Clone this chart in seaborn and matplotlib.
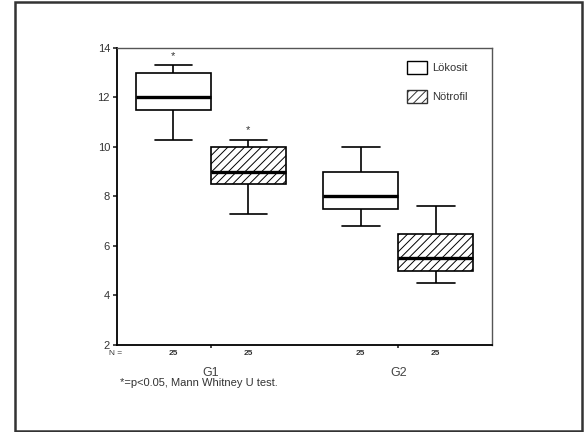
import numpy as np
import pandas as pd
import seaborn as sns
import matplotlib.pyplot as plt
from matplotlib.patches import Patch, Rectangle

# Beş sayı özeti (alt bıyık, Q1, medyan, Q3, üst bıyık)
gruplar = ['G1', 'G2']
hucreler = ['Lökosit', 'Nötrofil']
lokosit = [[10.3, 11.5, 12.0, 13.0, 13.3],
           [6.8, 7.5, 8.0, 9.0, 10.0]]
notrofil = [[7.3, 8.5, 9.0, 10.0, 10.3],
            [4.5, 5.0, 5.5, 6.5, 7.6]]
n_sayilari = [[25, 25], [25, 25]]
yildiz = [[True, True], [False, False]]
y_ticks = [2, 4, 6, 8, 10, 12, 14]
dipnot = '*=p<0.05, Mann Whitney U test.'

rows = []
for gi, g in enumerate(gruplar):
    for hucre, ozet in zip(hucreler, [lokosit[gi], notrofil[gi]]):
        for v in ozet:
            rows.append({'grup': g, 'hucre': hucre, 'deger': v})
df = pd.DataFrame(rows)

sns.set_style('white')
plt.rcParams['font.family'] = ['Liberation Sans', 'DejaVu Sans']
plt.rcParams['hatch.linewidth'] = 0.7
plt.rcParams['hatch.color'] = '#444444'

fig = plt.figure(figsize=(5.86, 4.32), dpi=100)
ax = fig.add_axes([0.1997, 0.2014, 0.64, 0.6875])

sns.boxplot(data=df, x='grup', y='deger', hue='hucre', order=gruplar,
            hue_order=hucreler, palette=['white', 'white'], linecolor='black',
            linewidth=1.2, width=0.8, gap=0, whis=(0, 100), fliersize=0,
            medianprops=dict(linewidth=2.4, color='black'), legend=False, ax=ax)

for c in ax.containers[1:]:
    for b in c.boxes:
        b.set_hatch('////')

ax.set_ylim(2, 14)
ax.set_xlim(-0.5, 1.5)
ax.set_yticks(y_ticks)
ax.set_xlabel('')
ax.set_ylabel('')
ax.tick_params(axis='y', length=3, width=1.2, labelsize=8, labelcolor='#333333', pad=2, left=True)
ax.tick_params(axis='x', length=2, width=1.2, labelsize=9, labelcolor='#444444', pad=14, bottom=True)

for s in ['left', 'bottom']:
    ax.spines[s].set_color('black')
    ax.spines[s].set_linewidth(1.3)
for s in ['top', 'right']:
    ax.spines[s].set_color('#555555')
    ax.spines[s].set_linewidth(1.0)

# N satırı
ax.text(-0.005, -0.03, 'N =', transform=ax.transAxes, ha='center', va='center',
        fontsize=6, color='#333333')
trans = ax.get_xaxis_transform()
for gi in range(len(gruplar)):
    for hi, off in enumerate([-0.2, 0.2]):
        ax.text(gi + off, -0.03, str(n_sayilari[gi][hi]), transform=trans,
                ha='center', va='center', fontsize=6, color='#333333', fontweight='bold')
        if yildiz[gi][hi]:
            ust = (lokosit if hi == 0 else notrofil)[gi][4]
            ax.annotate('*', (gi + off, ust), xytext=(0, 3), textcoords='offset points',
                        ha='center', va='bottom', fontsize=8, color='#333333')

handles = [Patch(facecolor='white', edgecolor='black', linewidth=1.0),
           Patch(facecolor='white', edgecolor='#333333', linewidth=1.0, hatch='////')]
ax.legend(handles, hucreler, loc='upper left', bbox_to_anchor=(0.746, 0.99),
          frameon=False, fontsize=8, handlelength=1.8, handleheight=1.45,
          labelspacing=1.4, handletextpad=0.45, labelcolor='#333333')

fig.text(120 / 586, 1 - 383 / 432, dipnot, ha='left', va='center', fontsize=8, color='#333333')

fig.patches.append(Rectangle((15 / 586, 1.5 / 432), 567 / 586, 429 / 432,
                             transform=fig.transFigure, fill=False,
                             edgecolor='#333333', linewidth=1.8))

fig.savefig('out.png', dpi=100)
